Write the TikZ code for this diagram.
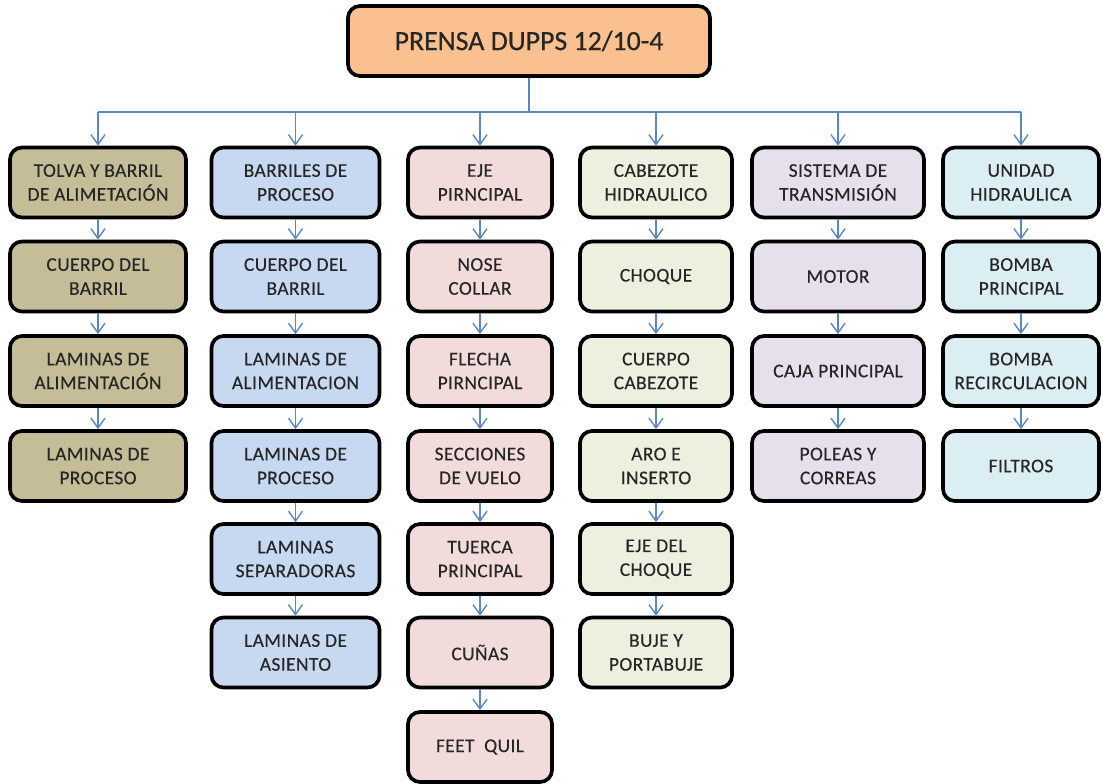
\documentclass[tikz,border=0pt]{standalone}
\usepackage{fontspec}
\setmainfont{Carlito}[LetterSpace=2.2, FakeBold=0.3]
\newfontfamily\rootfont{Carlito}[FakeBold=0.5]
\usepackage{xcolor}
\usepackage{tikz}
\usetikzlibrary{arrows.meta,positioning}

\definecolor{rootfill}{HTML}{FAC090}
\definecolor{tanfill}{HTML}{C4BD97}
\definecolor{bluefill}{HTML}{C6D9F1}
\definecolor{pinkfill}{HTML}{F2DCDB}
\definecolor{greenfill}{HTML}{EBF1DE}
\definecolor{lilacfill}{HTML}{E5E0EC}
\definecolor{aquafill}{HTML}{DBEEF4}
\definecolor{linkblue}{HTML}{5B87C0}

\begin{document}
\begin{tikzpicture}[
  x=0.025cm, y=-0.025cm,
  font=\fontsize{13.8}{17}\selectfont,
  box/.style={draw, line width=2.6pt, rounded corners=3mm, align=center,
              inner sep=2pt, minimum height=1.75cm, text=black!85},
  root/.style={box, fill=rootfill, minimum width=9.05cm,
               font=\rootfont\fontsize{19.8}{24}\selectfont},
  ctol/.style={box, fill=tanfill, minimum width=4.4cm},
  cbar/.style={box, fill=bluefill, minimum width=4.2cm},
  ceje/.style={box, fill=pinkfill, minimum width=3.6cm},
  ccab/.style={box, fill=greenfill, minimum width=3.8cm},
  csis/.style={box, fill=lilacfill, minimum width=4.3cm},
  cuni/.style={box, fill=aquafill, minimum width=3.9cm},
  line/.style={draw=linkblue, line width=1pt},
  arr/.style={line, -{Straight Barb[length=7pt, width=10pt]}}
]
\useasboundingbox (0,0) rectangle (1103,783);

% ---- root ----
\node[root] (root) at (529,41) {PRENSA DUPPS 12/10-4};
\coordinate (bus) at (529,112);

% ---- tolva ----
\node[ctol] (tol1) at (98,182.5) {TOLVA Y BARRIL\\DE ALIMETACIÓN};
\node[ctol] (tol2) at (98,276.5) {CUERPO DEL\\BARRIL};
\node[ctol] (tol3) at (98,371) {LAMINAS DE\\ALIMENTACIÓN};
\node[ctol] (tol4) at (98,466) {LAMINAS DE\\PROCESO};

% ---- barriles ----
\node[cbar] (bar1) at (295.5,182.5) {BARRILES DE\\PROCESO};
\node[cbar] (bar2) at (295.5,276.5) {CUERPO DEL\\BARRIL};
\node[cbar] (bar3) at (295.5,371) {LAMINAS DE\\ALIMENTACION};
\node[cbar] (bar4) at (295.5,466) {LAMINAS DE\\PROCESO};
\node[cbar] (bar5) at (295.5,559) {LAMINAS\\SEPARADORAS};
\node[cbar] (bar6) at (295.5,652.5) {LAMINAS DE\\ASIENTO};

% ---- eje ----
\node[ceje] (eje1) at (480,182.5) {EJE\\PIRNCIPAL};
\node[ceje] (eje2) at (480,276.5) {NOSE\\COLLAR};
\node[ceje] (eje3) at (480,371) {FLECHA\\PIRNCIPAL};
\node[ceje] (eje4) at (480,466) {SECCIONES\\DE VUELO};
\node[ceje] (eje5) at (480,559) {TUERCA\\PRINCIPAL};
\node[ceje] (eje6) at (480,652.5) {CUÑAS};
\node[ceje] (eje7) at (480,747) {FEET\ \ QUIL};

% ---- cabezote ----
\node[ccab] (cab1) at (656,182.5) {CABEZOTE\\HIDRAULICO};
\node[ccab] (cab2) at (656,276.5) {CHOQUE};
\node[ccab] (cab3) at (656,371) {CUERPO\\CABEZOTE};
\node[ccab] (cab4) at (656,466) {ARO E\\INSERTO};
\node[ccab] (cab5) at (656,559) {EJE DEL\\CHOQUE};
\node[ccab] (cab6) at (656,652.5) {BUJE Y\\PORTABUJE};

% ---- transmision ----
\node[csis] (sis1) at (838,182.5) {SISTEMA DE\\TRANSMISIÓN};
\node[csis] (sis2) at (838,276.5) {MOTOR};
\node[csis] (sis3) at (838,371) {CAJA PRINCIPAL};
\node[csis] (sis4) at (838,466) {POLEAS Y\\CORREAS};

% ---- unidad ----
\node[cuni] (uni1) at (1021,182.5) {UNIDAD\\HIDRAULICA};
\node[cuni] (uni2) at (1021,276.5) {BOMBA\\PRINCIPAL};
\node[cuni] (uni3) at (1021,371) {BOMBA\\RECIRCULACION};
\node[cuni] (uni4) at (1021,466) {FILTROS};

% ---- bus ----
\draw[line] (root.south) -- (bus);
\draw[line] (tol1.north |- bus) -- (uni1.north |- bus);
\draw[arr] (tol1.north |- bus) -- (tol1.north);
\draw[arr] (bar1.north |- bus) -- (bar1.north);
\draw[arr] (eje1.north |- bus) -- (eje1.north);
\draw[arr] (cab1.north |- bus) -- (cab1.north);
\draw[arr] (sis1.north |- bus) -- (sis1.north);
\draw[arr] (uni1.north |- bus) -- (uni1.north);

% ---- chains ----
\draw[arr] (tol1) -- (tol2);
\draw[arr] (tol2) -- (tol3);
\draw[arr] (tol3) -- (tol4);

\draw[arr] (bar1) -- (bar2);
\draw[arr] (bar2) -- (bar3);
\draw[arr] (bar3) -- (bar4);
\draw[arr] (bar4) -- (bar5);
\draw[arr] (bar5) -- (bar6);

\draw[arr] (eje1) -- (eje2);
\draw[arr] (eje2) -- (eje3);
\draw[arr] (eje3) -- (eje4);
\draw[arr] (eje4) -- (eje5);
\draw[arr] (eje5) -- (eje6);
\draw[arr] (eje6) -- (eje7);

\draw[arr] (cab1) -- (cab2);
\draw[arr] (cab2) -- (cab3);
\draw[arr] (cab3) -- (cab4);
\draw[arr] (cab4) -- (cab5);
\draw[arr] (cab5) -- (cab6);

\draw[arr] (sis1) -- (sis2);
\draw[arr] (sis2) -- (sis3);
\draw[arr] (sis3) -- (sis4);

\draw[arr] (uni1) -- (uni2);
\draw[arr] (uni2) -- (uni3);
\draw[arr] (uni3) -- (uni4);
\end{tikzpicture}
\end{document}
